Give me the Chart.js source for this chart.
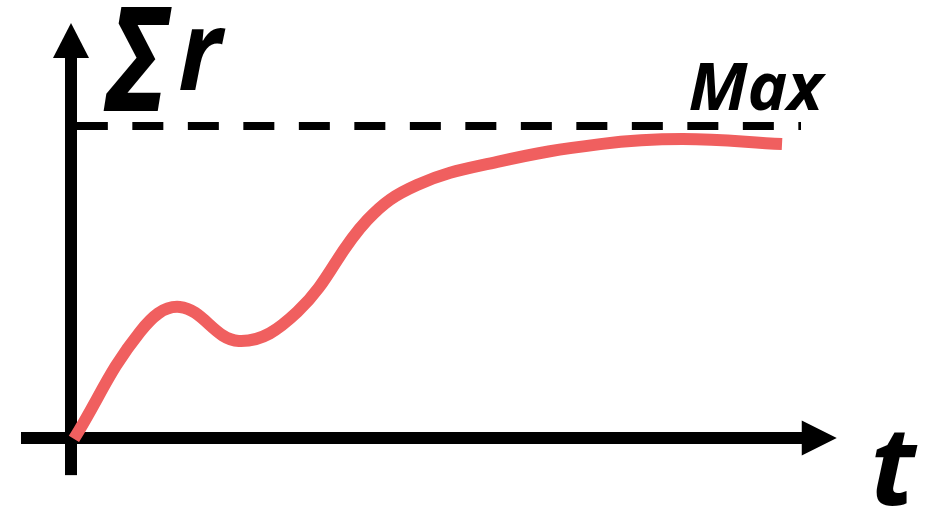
<!DOCTYPE html>
<html>
<head>
<meta charset="utf-8">
<script src="https://cdn.jsdelivr.net/npm/chart.js@4"></script>
<style>
  html, body { margin: 0; padding: 0; background: #ffffff; }
  #wrap { width: 930px; height: 507px; }
</style>
</head>
<body>
<div id="wrap"><canvas id="c" width="930" height="507"></canvas></div>
<script>
// ---- data ----
const T_VALUES = [0.4, 9.45, 14.9, 23.0, 31.0, 40.6, 47.4, 58.4, 72.5, 83.8, 97.4];
const R_VALUES = [-0.3, 34.0, 42.0, 31.1, 40.4, 69.9, 81.1, 88.5, 94.2, 95.8, 94.2];
const MAX_VALUE = 100;
const MAX_SPAN = [0.8, 100];
const LABEL_SIGMA = 'Σ';
const LABEL_Y = 'r';
const LABEL_X = 't';
const LABEL_MAX = 'Max';

const curve = T_VALUES.map((t, i) => ({ x: t, y: R_VALUES[i] }));
const maxLine = MAX_SPAN.map(t => ({ x: t, y: MAX_VALUE }));

const axesPlugin = {
  id: 'axesArrows',
  beforeDatasetsDraw(chart) {
    const { ctx, scales: { x, y } } = chart;
    const x0 = x.getPixelForValue(0), y0 = y.getPixelForValue(0);
    ctx.save();
    ctx.fillStyle = '#000';
    const yBottom = y.getPixelForValue(-11.9);
    const yBase = y.getPixelForValue(121.8);
    const yTip = y.getPixelForValue(133.0);
    ctx.fillRect(x0 - 6, yBase - 1, 12, yBottom - yBase + 1);
    ctx.beginPath();
    ctx.moveTo(x0 - 18, yBase);
    ctx.lineTo(x0 + 18, yBase);
    ctx.lineTo(x0, yTip);
    ctx.closePath();
    ctx.fill();
    const xLeft = x.getPixelForValue(-6.85);
    const xBase = x.getPixelForValue(100.1);
    const xTip = x.getPixelForValue(104.9);
    ctx.fillRect(xLeft, y0 - 6, xBase - xLeft + 1, 12);
    ctx.beginPath();
    ctx.moveTo(xBase, y0 - 17.5);
    ctx.lineTo(xBase, y0 + 17.5);
    ctx.lineTo(xTip, y0);
    ctx.closePath();
    ctx.fill();
    ctx.restore();
  },
  afterDatasetsDraw(chart) {
    const { ctx, scales: { x, y } } = chart;
    ctx.save();
    ctx.fillStyle = '#000';
    ctx.textBaseline = 'alphabetic';
    ctx.textAlign = 'left';
    const fam = "'Open Sans', 'Noto Sans', 'DejaVu Sans', sans-serif";
    ctx.save();
    ctx.translate(x.getPixelForValue(4.8), y.getPixelForValue(104.8));
    ctx.scale(0.78, 1);
    ctx.font = "italic bold 146px " + fam;
    ctx.fillText(LABEL_SIGMA, 0, 0);
    ctx.restore();
    ctx.save();
    ctx.translate(x.getPixelForValue(14.7), y.getPixelForValue(111.5));
    ctx.scale(0.92, 1);
    ctx.font = "italic bold 112px " + fam;
    ctx.fillText(LABEL_Y, 0, 0);
    ctx.restore();
    ctx.font = "italic bold 67px " + fam;
    ctx.fillText(LABEL_MAX, x.getPixelForValue(84.6), y.getPixelForValue(105.1));
    ctx.font = "italic bold 110px " + fam;
    ctx.fillText(LABEL_X, x.getPixelForValue(109.5), y.getPixelForValue(-21.5));
    ctx.restore();
  }
};

new Chart(document.getElementById('c'), {
  type: 'line',
  data: {
    datasets: [
      {
        label: 'Max',
        data: maxLine,
        borderColor: '#000000',
        borderWidth: 8,
        borderDash: [31, 24.5],
        borderCapStyle: 'butt',
        pointRadius: 0,
        fill: false,
        tension: 0
      },
      {
        label: 'Σr',
        data: curve,
        borderColor: '#F05F5F',
        borderWidth: 12,
        borderCapStyle: 'butt',
        borderJoinStyle: 'round',
        pointRadius: 0,
        fill: false,
        tension: 0.4
      }
    ]
  },
  options: {
    responsive: false,
    animation: false,
    devicePixelRatio: 1,
    layout: { padding: 0 },
    plugins: { legend: { display: false }, tooltip: { enabled: false }, title: { display: false } },
    scales: {
      x: { type: 'linear', display: false, min: -9.726, max: 117.67 },
      y: { type: 'linear', display: false, min: -22.115, max: 140.385 }
    }
  },
  plugins: [axesPlugin]
});
</script>
</body>
</html>
